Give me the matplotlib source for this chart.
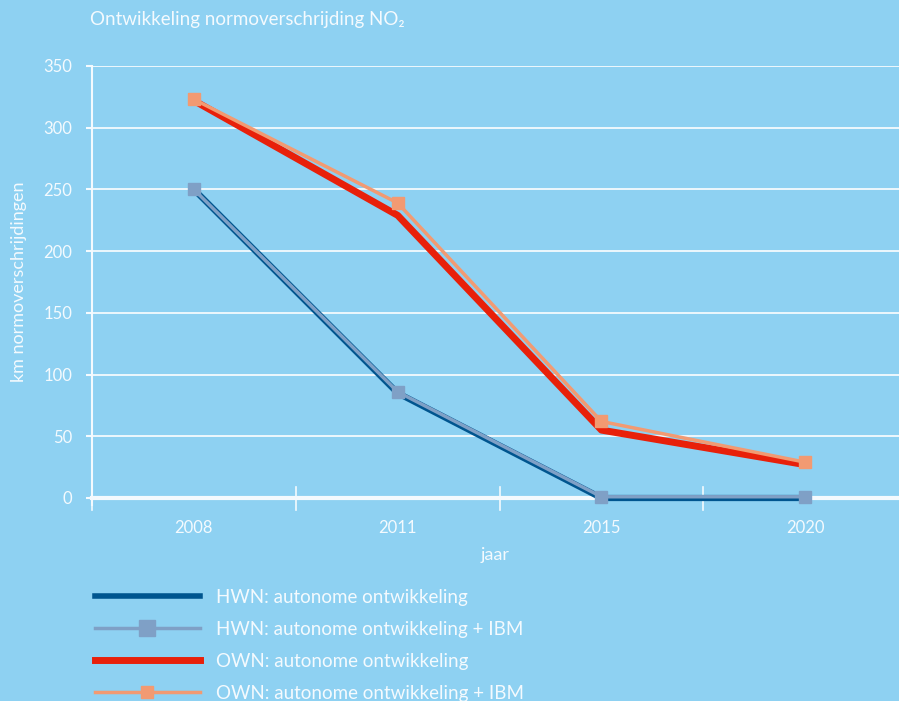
import matplotlib
matplotlib.use("Agg")
import matplotlib.pyplot as plt
from matplotlib.lines import Line2D

# data
jaren = ["2008", "2011", "2015", "2020"]
hwn_auto = [250, 85, 0, 0]
hwn_ibm = [250, 86, 1, 1]
own_auto = [322, 229, 55, 27]
own_ibm = [323, 239, 62, 29]
yticks = [0, 50, 100, 150, 200, 250, 300, 350]

bg = "#8ED1F2"
wit = "#F4FAFE"
c_hwn = "#00558F"
c_hwn_ibm = "#7FA0C6"
c_own = "#E8200A"
c_own_ibm = "#F29A72"

plt.rcParams["font.family"] = ["Lato", "DejaVu Sans"]

fig = plt.figure(figsize=(8.99, 7.01), dpi=100, facecolor=bg)
ax = fig.add_axes([92 / 899, 1 - 498 / 701, 1 - 92 / 899, 432 / 701])
ax.set_facecolor(bg)

x = list(range(len(jaren)))
ax.plot(x, hwn_auto, color=c_hwn, lw=4.5, zorder=3, clip_on=False)
ax.plot(x, hwn_ibm, color=c_hwn_ibm, lw=2.5, zorder=3, clip_on=False)
ax.plot(x, own_auto, color=c_own, lw=5, zorder=3, clip_on=False)
ax.plot(x, own_ibm, color=c_own_ibm, lw=2.5, zorder=3, clip_on=False)
ax.plot(x, hwn_ibm, ls="none", marker="s", ms=9, color=c_hwn_ibm, zorder=5, clip_on=False)
ax.plot(x, own_ibm, ls="none", marker="s", ms=9, color=c_own_ibm, zorder=5, clip_on=False)

ax.set_xlim(-0.5, 3.46)
ax.set_ylim(0, 350)

# gridlines
for v in yticks[1:]:
    ax.axhline(v, color=wit, lw=1.3, zorder=1)
ax.axhline(0, color=wit, lw=3, zorder=2, clip_on=False)

for s in ["top", "right", "bottom"]:
    ax.spines[s].set_visible(False)
ax.spines["left"].set_color(wit)
ax.spines["left"].set_linewidth(1.5)
ax.spines["left"].set_bounds(-6, 350)

ax.set_yticks(yticks)
ax.set_yticklabels([str(v) for v in yticks])
ax.tick_params(axis="y", colors=wit, labelsize=12, length=4, width=1.5, pad=10)

ax.set_xticks(x)
ax.set_xticklabels(jaren)
ax.tick_params(axis="x", colors=wit, labelsize=12, length=0, pad=16)
# category separators
for b in [-0.5, 0.5, 1.5, 2.5]:
    ax.plot([b, b], [-10, 9], color=wit, lw=1.2, clip_on=False, zorder=2)

ax.set_xlabel("jaar", color=wit, fontsize=13, labelpad=8)
ax.set_ylabel("km normoverschrijdingen", color=wit, fontsize=13, labelpad=12)

fig.text(90 / 899, 1 - 20 / 701, "Ontwikkeling normoverschrijding NO\u2082",
         color=wit, fontsize=13.5, va="center", ha="left")

handles = [
    Line2D([], [], color=c_hwn, lw=4),
    Line2D([], [], color=c_hwn_ibm, lw=2.5, marker="s", ms=11, markevery=[1]),
    Line2D([], [], color=c_own, lw=5),
    Line2D([], [], color=c_own_ibm, lw=2.5, marker="s", ms=9, markevery=[1]),
]
labels = ["HWN: autonome ontwikkeling", "HWN: autonome ontwikkeling + IBM",
          "OWN: autonome ontwikkeling", "OWN: autonome ontwikkeling + IBM"]
fig.legend(handles, labels, loc="upper left", bbox_to_anchor=(87 / 899, 1 - 581 / 701),
           frameon=False, labelcolor=wit, fontsize=13.5, handlelength=5.6,
           handletextpad=0.9, labelspacing=0.8, borderaxespad=0)

fig.savefig("out.png", dpi=100, facecolor=bg)
